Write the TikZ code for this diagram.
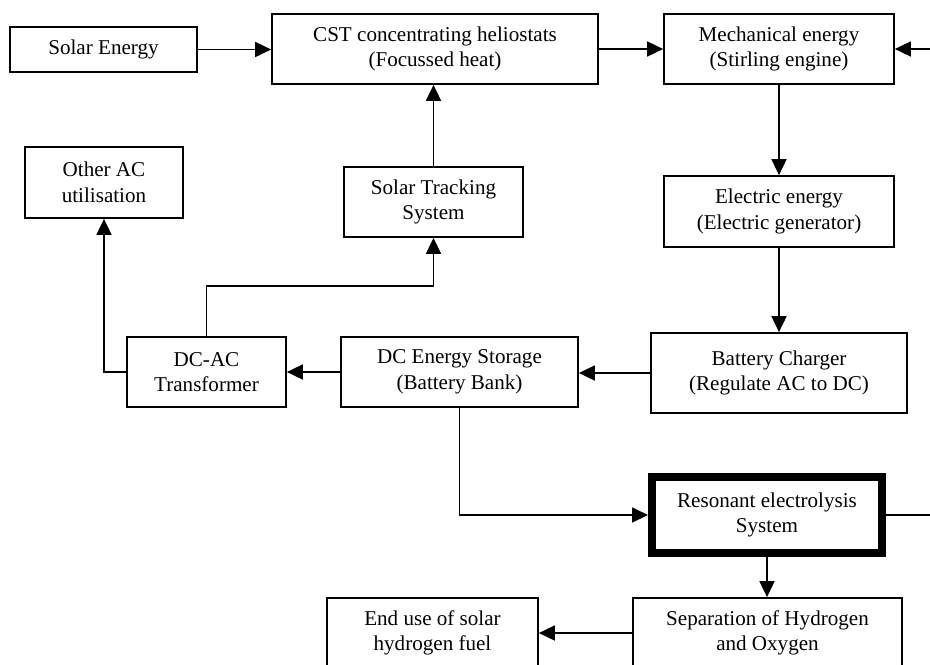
\documentclass[tikz,border=0pt]{standalone}
\usepackage{fontspec}
\setmainfont{Liberation Serif}
\usetikzlibrary{arrows.meta}

\begin{document}
\begin{tikzpicture}[x=0.02cm, y=-0.02cm, >={Triangle[length=0.32cm,width=0.3cm]},
        block/.style={draw, line width=1pt, align=center, inner sep=0pt, font=\fontsize{12}{14.5}\selectfont},
        link/.style={->, line width=1pt}]
        \useasboundingbox (0,0) rectangle (930,664);
        \clip (0,0) rectangle (930,664);

        \node[block, minimum width=3.74cm, minimum height=0.9cm] (solar) at (103.5,49.5) {Solar Energy};
        \node[block, minimum width=6.52cm, minimum height=1.4cm] (cst) at (435,49) {CST concentrating heliostats\\(Focussed heat)};
        \node[block, minimum width=4.6cm, minimum height=1.4cm] (mech) at (779,49) {Mechanical energy\\(Stirling engine)};
        \node[block, minimum width=4.6cm, minimum height=1.42cm] (elec) at (779,211.5) {Electric energy\\(Electric generator)};
        \node[block, minimum width=5.12cm, minimum height=1.6cm] (charger) at (779,373) {Battery Charger\\(Regulate AC to DC)};
        \node[block, minimum width=4.74cm, minimum height=1.4cm] (storage) at (459.5,372) {DC Energy Storage\\(Battery Bank)};
        \node[block, minimum width=3.18cm, minimum height=1.4cm] (dcac) at (206.5,372) {DC-AC\\Transformer};
        \node[block, minimum width=3.16cm, minimum height=1.42cm] (otherac) at (104,182.5) {Other AC\\utilisation};
        \node[block, minimum width=3.58cm, minimum height=1.4cm] (tracking) at (433.5,202) {Solar Tracking\\System};
        \node[block, line width=0.16cm, minimum width=4.6cm, minimum height=1.52cm] (reson) at (767,515) {Resonant electrolysis\\System};
        \node[block, minimum width=5.38cm, minimum height=1.4cm] (separation) at (767.5,633) {Separation of Hydrogen\\and Oxygen};
        \node[block, minimum width=4.22cm, minimum height=1.4cm] (enduse) at (432.5,633) {End use of solar\\hydrogen fuel};

        \coordinate (mechin) at (930,49);
        \coordinate (resonout) at (930,515);

        \draw[link] (solar.east) -- (solar.east -| cst.west);
        \draw[link] (cst.east) -- (mech.west);
        \draw[link] (mechin) -- (mech.east);
        \draw[link] (mech.south) -- (elec.north);
        \draw[link] (elec.south) -- (charger.north);
        \draw[link] (charger.west) -- (charger.west -| storage.east);
        \draw[link] (storage.west) -- (dcac.east);
        \draw[link] (dcac.west) -| (otherac.south);
        \draw[link] (dcac.north) -- ++(0,-50) -| (tracking.south);
        \draw[link] (tracking.north) -- (tracking.north |- cst.south);
        \draw[link] (storage.south) |- (reson.west);
        \draw[line width=1pt] (reson.east) -- (resonout);
        \draw[link] (reson.south) -- (reson.south |- separation.north);
        \draw[link] (separation.west) -- (enduse.east);

    \end{tikzpicture}
\end{document}
